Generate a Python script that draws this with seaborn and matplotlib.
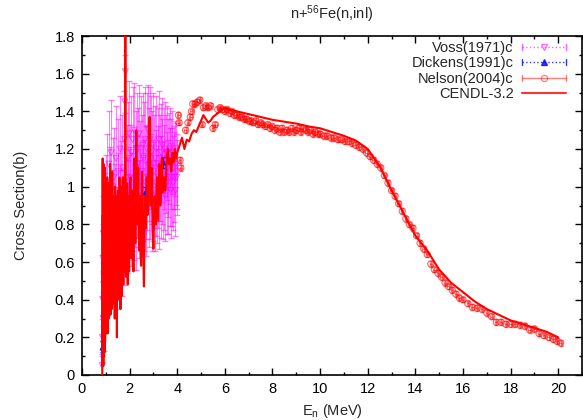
import matplotlib
matplotlib.use("Agg")
import matplotlib.pyplot as plt
import seaborn as sns
import numpy as np
import pandas as pd
from matplotlib.lines import Line2D
from matplotlib.legend_handler import HandlerBase
from matplotlib.ticker import MultipleLocator

# ---------------- data ----------------
cendl_E = [0.850, 0.856, 0.862, 0.868, 0.874, 0.880, 0.886, 0.892, 0.898, 0.904,
           0.910, 0.916, 0.922, 0.928, 0.934, 0.940, 0.946, 0.952, 0.958, 0.964,
           0.970, 0.976, 0.982, 0.988, 0.994, 1.000,
           1.015, 1.030, 1.045, 1.060, 1.075, 1.090, 1.105, 1.120, 1.135, 1.150,
           1.165, 1.180, 1.195, 1.210, 1.225, 1.240, 1.255, 1.270, 1.285, 1.300,
           1.315, 1.330, 1.345, 1.360, 1.375, 1.390, 1.405, 1.420, 1.435, 1.450,
           1.465, 1.480, 1.495, 1.510, 1.525, 1.540, 1.555, 1.570, 1.585, 1.600,
           1.615, 1.630, 1.645, 1.660, 1.675, 1.690, 1.705, 1.720, 1.735, 1.750,
           1.765, 1.780, 1.795, 1.810, 1.820, 1.830, 1.845, 1.860, 1.875, 1.890,
           1.905, 1.920, 1.935, 1.950, 1.965, 1.980, 2.000,
           2.04, 2.08, 2.12, 2.16, 2.20, 2.24, 2.28, 2.32, 2.36, 2.40,
           2.44, 2.48, 2.52, 2.56, 2.60, 2.64, 2.68, 2.72, 2.76, 2.80,
           2.84, 2.88, 2.92, 2.96, 3.00,
           3.05, 3.10, 3.15, 3.20, 3.25, 3.30, 3.35, 3.40, 3.45, 3.50,
           3.55, 3.60, 3.65, 3.70, 3.75, 3.80, 3.85, 3.90, 3.95, 4.00,
           4.1, 4.2, 4.3, 4.4, 4.5, 4.6, 4.7, 4.8, 4.9, 5.0,
           5.1, 5.2, 5.3, 5.4, 5.5, 5.6, 5.8, 6.0, 6.2, 6.5,
           7.0, 7.5, 8.0, 8.5, 9.0, 9.5, 10.0, 10.5, 11.0, 11.5,
           12.0, 12.5, 13.0, 13.5, 14.0, 14.5, 15.0, 15.5, 16.0, 16.5,
           17.0, 17.5, 18.0, 18.5, 19.0, 19.5, 20.0]
cendl_xs = [0.00, 0.60, 0.05, 1.15, 0.08, 0.85, 0.12, 1.05, 0.05, 0.95,
            0.15, 1.12, 0.10, 0.80, 0.20, 1.08, 0.12, 0.92, 0.25, 1.10,
            0.18, 0.70, 0.30, 1.02, 0.22, 0.88,
            0.28, 0.95, 0.35, 1.05, 0.22, 0.85, 0.40, 1.02, 0.30, 0.90,
            0.45, 1.12, 0.32, 0.98, 0.50, 0.78, 0.35, 1.08, 0.42, 0.88,
            0.55, 0.95, 0.38, 0.82, 0.30, 1.00, 0.48, 0.72, 0.35, 0.95,
            0.20, 0.85, 0.45, 0.98, 0.55, 0.90, 0.40, 1.05, 0.50, 0.80,
            0.35, 1.00, 0.58, 0.92, 0.42, 0.88, 0.60, 1.05, 0.48, 0.95,
            0.55, 0.82, 0.62, 0.90, 1.95, 0.65, 0.98, 0.52, 1.02, 0.58,
            0.92, 0.48, 0.95, 0.62, 0.88, 0.55, 1.00,
            1.05, 0.62, 0.98, 0.55, 1.15, 0.70, 1.30, 0.80, 1.10, 0.66,
            0.95, 0.58, 1.08, 0.72, 0.47, 0.95, 0.78, 1.05, 0.85, 1.20,
            1.37, 0.90, 1.10, 0.78, 0.67,
            0.95, 0.80, 1.05, 0.82, 1.12, 0.90, 1.15, 0.97, 1.05, 0.98,
            1.12, 1.20, 1.12, 1.15, 1.08, 1.18, 1.13, 1.20, 1.15, 1.18,
            1.22, 1.26, 1.20, 1.25, 1.24, 1.28, 1.30, 1.29, 1.32, 1.35,
            1.38, 1.36, 1.34, 1.35, 1.37, 1.38, 1.40, 1.42, 1.41, 1.40,
            1.385, 1.37, 1.355, 1.345, 1.335, 1.32, 1.31, 1.29, 1.27, 1.245,
            1.20, 1.11, 0.98, 0.86, 0.74, 0.66, 0.56, 0.49, 0.44, 0.39,
            0.35, 0.32, 0.29, 0.27, 0.25, 0.23, 0.20]

voss_E = [0.850, 0.860, 0.870, 0.880, 0.890, 0.900, 0.910, 0.920, 0.930, 0.940,
          0.950, 0.965, 0.980, 0.995, 1.010, 1.025, 1.040, 1.055, 1.070, 1.085,
          1.100, 1.125, 1.150, 1.175, 1.200, 1.225, 1.250, 1.275, 1.300, 1.325,
          1.350, 1.375, 1.400, 1.425, 1.450, 1.475, 1.500, 1.525, 1.550, 1.575,
          1.600, 1.625, 1.650, 1.675, 1.700, 1.725, 1.750, 1.775, 1.800, 1.825,
          1.850, 1.875, 1.900, 1.925, 1.950, 1.975, 2.000, 2.025, 2.050, 2.075,
          2.100, 2.125, 2.150, 2.175, 2.200, 2.225, 2.250, 2.275, 2.300, 2.325,
          2.350, 2.375, 2.400, 2.425, 2.450, 2.475, 2.500, 2.525, 2.550, 2.575,
          2.600, 2.625, 2.650, 2.675, 2.700, 2.725, 2.750, 2.775, 2.800, 2.825,
          2.850, 2.875, 2.900, 2.925, 2.950, 2.975, 3.000, 3.025, 3.050, 3.075,
          3.100, 3.125, 3.150, 3.175, 3.200, 3.225, 3.250, 3.275, 3.300, 3.325,
          3.350, 3.375, 3.400, 3.425, 3.450, 3.475, 3.500, 3.525, 3.550, 3.575,
          3.600, 3.625, 3.650, 3.675, 3.700, 3.725, 3.750, 3.775, 3.800, 3.825,
          3.850, 3.875, 3.900, 3.925, 3.950, 3.975, 4.000]
voss_xs = [0.05, 0.20, 0.40, 0.62, 0.30, 0.75, 0.48, 0.58, 0.25, 0.70,
           0.45, 0.85, 0.55, 0.78, 0.40, 0.92, 0.62, 1.02, 0.50, 0.80,
           0.68, 1.12, 0.75, 0.95, 0.58, 1.18, 0.85, 0.65, 1.00, 0.72,
           1.05, 0.60, 0.88, 1.15, 0.78, 0.55, 0.92, 1.08, 0.70, 0.85,
           1.20, 0.80, 0.98, 0.62, 1.10, 0.85, 0.70, 1.25, 1.45, 1.61,
           0.90, 1.05, 0.78, 1.15, 0.88, 1.28, 0.95, 1.05, 0.82, 1.18,
           0.92, 1.25, 1.02, 0.85, 1.30, 0.95, 1.10, 0.80, 1.20, 1.00,
           1.12, 0.88, 1.28, 1.05, 0.95, 1.18, 0.90, 1.08, 1.22, 0.98,
           1.15, 0.92, 1.25, 1.02, 0.88, 1.20, 1.05, 1.30, 0.95, 1.12,
           1.25, 1.00, 1.18, 0.92, 1.10, 1.22, 0.98, 1.08, 0.90, 1.15,
           1.02, 1.20, 0.95, 1.12, 1.05, 1.25, 0.92, 1.10, 1.00, 1.18,
           1.08, 1.22, 0.98, 1.15, 1.05, 1.20, 0.95, 1.12, 1.02, 1.18,
           1.10, 1.00, 1.15, 1.05, 1.20, 0.98, 1.12, 1.05, 1.18, 1.02,
           1.10, 1.05, 1.15, 0.98, 1.12, 1.05, 1.08]
voss_err = [0.06, 0.10, 0.14, 0.18, 0.12, 0.20, 0.16, 0.18, 0.12, 0.20,
            0.16, 0.22, 0.18, 0.22, 0.15, 0.25, 0.20, 0.26, 0.18, 0.22,
            0.22, 0.28, 0.22, 0.26, 0.20, 0.28, 0.24, 0.22, 0.26, 0.22,
            0.26, 0.20, 0.24, 0.28, 0.22, 0.20, 0.26, 0.28, 0.22, 0.24,
            0.28, 0.24, 0.26, 0.20, 0.28, 0.24, 0.22, 0.26, 0.25, 0.22,
            0.26, 0.28, 0.24, 0.30, 0.26, 0.28, 0.26, 0.28, 0.24, 0.30,
            0.26, 0.28, 0.28, 0.24, 0.25, 0.27, 0.30, 0.24, 0.30, 0.27,
            0.30, 0.26, 0.26, 0.30, 0.27, 0.30, 0.26, 0.30, 0.28, 0.27,
            0.30, 0.26, 0.28, 0.30, 0.25, 0.30, 0.28, 0.24, 0.27, 0.30,
            0.28, 0.28, 0.30, 0.26, 0.30, 0.28, 0.27, 0.30, 0.24, 0.28,
            0.28, 0.28, 0.25, 0.30, 0.27, 0.26, 0.25, 0.28, 0.27, 0.26,
            0.28, 0.25, 0.26, 0.27, 0.28, 0.25, 0.24, 0.26, 0.27, 0.25,
            0.26, 0.25, 0.24, 0.26, 0.22, 0.25, 0.24, 0.26, 0.22, 0.25,
            0.22, 0.24, 0.20, 0.24, 0.22, 0.20, 0.20]

dickens_E = [0.86, 2.65, 3.40]
dickens_xs = [0.15, 0.97, 1.13]
dickens_err = [0.03, 0.03, 0.03]

nelson_E = [4.05, 4.08, 4.12, 4.15, 4.35, 4.45, 4.55, 4.60, 4.65, 4.75,
            4.85, 4.95, 5.05, 5.10, 5.20, 5.30, 5.40, 5.50, 5.60, 5.70,
            5.80, 5.90, 6.00, 6.10, 6.20, 6.30, 6.40, 6.50, 6.60, 6.70,
            6.80, 6.90, 7.00, 7.10, 7.20, 7.30, 7.40, 7.50, 7.60, 7.70,
            7.80, 7.90, 8.00, 8.10, 8.20, 8.30, 8.40, 8.50, 8.60, 8.70,
            8.80, 8.90, 9.00, 9.10, 9.20, 9.30, 9.40, 9.50, 9.60, 9.70,
            9.80, 9.90, 10.00, 10.15, 10.30, 10.45, 10.60, 10.75, 10.90, 11.05,
            11.20, 11.35, 11.50, 11.65, 11.80, 11.95, 12.10, 12.25, 12.40, 12.55,
            12.70, 12.85, 13.00, 13.15, 13.30, 13.45, 13.60, 13.75, 13.90, 14.05,
            14.20, 14.35, 14.50, 14.65, 14.80, 14.95, 15.10, 15.25, 15.40, 15.55,
            15.70, 15.85, 16.00, 16.20, 16.40, 16.60, 16.80, 17.00, 17.20, 17.40,
            17.60, 17.80, 18.00, 18.20, 18.40, 18.60, 18.80, 19.00, 19.20, 19.40,
            19.60, 19.80, 19.95, 20.10]
nelson_xs = [1.38, 1.34, 1.14, 1.10, 1.30, 1.34, 1.37, 1.40, 1.44, 1.44,
             1.45, 1.46, 1.33, 1.42, 1.43, 1.42, 1.43, 1.31, 1.33, 1.41,
             1.42, 1.41, 1.40, 1.41, 1.39, 1.40, 1.38, 1.38, 1.37, 1.37,
             1.36, 1.36, 1.35, 1.35, 1.34, 1.35, 1.33, 1.34, 1.33, 1.32,
             1.33, 1.31, 1.32, 1.30, 1.31, 1.29, 1.31, 1.29, 1.30, 1.29,
             1.31, 1.29, 1.30, 1.31, 1.29, 1.31, 1.30, 1.29, 1.30, 1.28,
             1.29, 1.28, 1.28, 1.27, 1.27, 1.26, 1.26, 1.25, 1.25, 1.24,
             1.24, 1.23, 1.22, 1.21, 1.20, 1.18, 1.16, 1.14, 1.12, 1.10,
             1.06, 1.02, 0.98, 0.95, 0.91, 0.87, 0.83, 0.80, 0.78, 0.74,
             0.70, 0.67, 0.64, 0.59, 0.56, 0.54, 0.52, 0.49, 0.47, 0.45,
             0.43, 0.41, 0.40, 0.38, 0.36, 0.355, 0.35, 0.33, 0.31, 0.28,
             0.28, 0.27, 0.27, 0.27, 0.265, 0.26, 0.24, 0.245, 0.22, 0.21,
             0.20, 0.19, 0.18, 0.17]
nelson_err = 0.015

labels = ["Voss(1971)c", "Dickens(1991)c", "Nelson(2004)c", "CENDL-3.2"]

# ---------------- style ----------------
sns.set_style("ticks")
plt.rcParams["font.family"] = ["Liberation Sans", "DejaVu Sans"]
plt.rcParams["mathtext.fontset"] = "custom"
plt.rcParams["mathtext.rm"] = "Liberation Sans"
plt.rcParams["mathtext.it"] = "Liberation Sans:italic"
plt.rcParams["mathtext.bf"] = "Liberation Sans:bold"

W, H = 583, 420
fig = plt.figure(figsize=(W / 100, H / 100), dpi=100)
L, R, T, B = 82, 582, 36, 375
ax = fig.add_axes([L / W, 1 - B / H, (R - L) / W, (B - T) / H])

MAG = "#ff00ff"
BLU = "#0000ff"
RED = "#ff0000"

# Voss
ax.errorbar(voss_E, voss_xs, yerr=voss_err, fmt="none", ecolor=MAG, elinewidth=0.8,
            capsize=2, alpha=0.5, linestyle=":", zorder=2)
sns.scatterplot(x=voss_E, y=voss_xs, ax=ax, marker="v", s=18, facecolor="none",
                edgecolor=MAG, linewidth=0.8, alpha=0.6, zorder=3)
# Dickens
ax.errorbar(dickens_E, dickens_xs, yerr=dickens_err, fmt="none", ecolor=BLU,
            elinewidth=0.6, capsize=1.5, linestyle=":", zorder=3)
sns.scatterplot(x=dickens_E, y=dickens_xs, ax=ax, marker="^", s=14, color=BLU,
                edgecolor=BLU, linewidth=0.4, zorder=4)
# Nelson
ax.errorbar(nelson_E, nelson_xs, yerr=nelson_err, xerr=0.05, fmt="none", ecolor=RED,
            elinewidth=0.7, capsize=1.5, alpha=0.55, zorder=4)
sns.scatterplot(x=nelson_E, y=nelson_xs, ax=ax, marker="o", s=20, facecolor="none",
                edgecolor=RED, linewidth=0.8, alpha=0.6, zorder=5)
# CENDL
cendl_df = pd.DataFrame({"E": cendl_E, "xs": cendl_xs})
sns.lineplot(data=cendl_df, x="E", y="xs", ax=ax, color=RED, linewidth=1.5,
             sort=False, estimator=None, zorder=6)

ax.set_xlim(0, 21)
ax.set_ylim(0, 1.8)
ax.xaxis.set_major_locator(MultipleLocator(2))
ax.xaxis.set_minor_locator(MultipleLocator(1))
ax.yaxis.set_major_locator(MultipleLocator(0.2))
ax.yaxis.set_minor_locator(MultipleLocator(0.1))
ax.set_xticks(np.arange(0, 21, 2))
ax.set_xticklabels([str(v) for v in range(0, 21, 2)])
yt = np.round(np.arange(0, 1.81, 0.2), 1)
ax.set_yticks(yt)
ax.set_yticklabels(["0" if v == 0 else ("1" if v == 1 else f"{v:g}") for v in yt])
ax.tick_params(which="both", direction="in", top=True, right=True, colors="black",
               labelsize=10.5, width=1.0)
ax.tick_params(which="major", length=5, pad=5)
ax.tick_params(which="minor", length=2.5)
for s in ax.spines.values():
    s.set_linewidth(1.2)
    s.set_color("black")

ax.set_xlabel("E$_{\\mathrm{n}}$ (MeV)", fontsize=10.5, labelpad=4)
ax.set_ylabel("Cross Section(b)", fontsize=10.5, labelpad=19)
fig.text((L + R) / 2 / W, 1 - 14 / H, "n+$^{\\mathrm{56}}$Fe(n,inl)", ha="center",
         va="center", fontsize=10.5)


class ErrKey(HandlerBase):
    def __init__(self, color, ls, marker, mfc, alpha):
        super().__init__()
        self.c, self.ls, self.m, self.mfc, self.a = color, ls, marker, mfc, alpha

    def create_artists(self, legend, orig_handle, xdescent, ydescent, width, height,
                       fontsize, trans):
        x0, x1 = -xdescent, -xdescent + width
        y = (height - ydescent) / 2
        cap = height * 0.3
        arts = [Line2D([x0, x1], [y, y], color=self.c, ls=self.ls, lw=1.0, alpha=self.a),
                Line2D([x0, x0], [y - cap, y + cap], color=self.c, lw=1.0, alpha=self.a),
                Line2D([x1, x1], [y - cap, y + cap], color=self.c, lw=1.0, alpha=self.a),
                Line2D([(x0 + x1) / 2], [y], marker=self.m, ms=4.5, ls="none",
                       mfc=self.mfc, mec=self.c, mew=0.9, alpha=self.a)]
        for a in arts:
            a.set_transform(trans)
        return arts


h1, h2, h3 = Line2D([], []), Line2D([], []), Line2D([], [])
h4 = Line2D([], [], color=RED, lw=1.5, alpha=0.8)
hmap = {h1: ErrKey(MAG, ":", "v", "none", 0.6),
        h2: ErrKey(BLU, ":", "^", BLU, 0.8),
        h3: ErrKey(RED, "-", "o", "none", 0.5)}
ax.legend([h1, h2, h3, h4], labels, handler_map=hmap, loc="upper right",
          bbox_to_anchor=((566 - L) / (R - L), 1 - (41 - T) / (B - T)),
          frameon=False, markerfirst=False, fontsize=10.5, handlelength=3.0,
          handletextpad=0.6, labelspacing=0.1, borderpad=0, borderaxespad=0)

fig.savefig("out.png", dpi=100)
